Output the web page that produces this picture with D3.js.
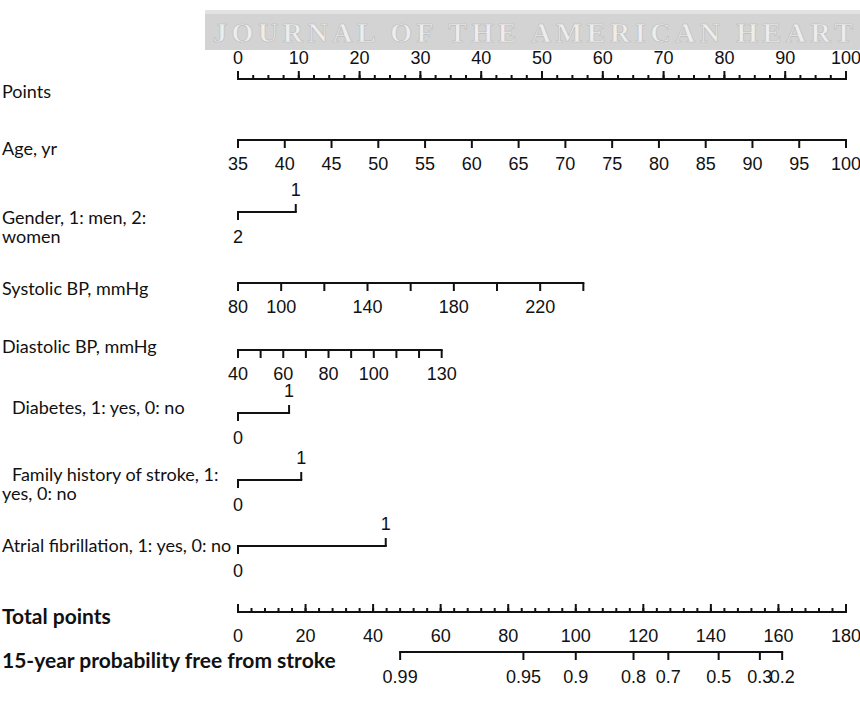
<!DOCTYPE html>
<html>
<head>
<meta charset="utf-8">
<script src="https://cdn.jsdelivr.net/npm/d3@7"></script>
<style>
  body { margin: 0; background: #fff; }
  svg { display: block; }
  .lab { font-family: Lato, "Open Sans", sans-serif; font-size: 18px; fill: #111; }
  .lab.b { font-size: 21px; font-weight: bold; }
  .num { font-family: "Liberation Sans", Arial, sans-serif; font-size: 18px; fill: #111; }
  .axis line { stroke: #111; stroke-width: 2; }
</style>
</head>
<body>
<svg id="chart" width="860" height="709"></svg>
<script>
// values
var pointsMajor = d3.range(0, 101, 10);
var pointsMinor = d3.range(0, 100.1, 2.5);

var ageTicks = d3.range(35, 101, 5);
var ageRange = [35, 100], agePts = [0, 100];

var genderCats = ['2', '1'], genderPts = [0, 9.5];

var sbpTicks = [80, 100, 120, 140, 160, 180, 200, 220, 240];
var sbpLabels = [80, 100, 140, 180, 220];
var sbpRange = [80, 240], sbpPts = [0, 56.8];

var dbpTicks = d3.range(40, 131, 10);
var dbpLabels = [40, 60, 80, 100, 130];
var dbpRange = [40, 130], dbpPts = [0, 33.5];

var diabetesCats = ['0', '1'], diabetesPts = [0, 8.4];
var familyCats = ['0', '1'], familyPts = [0, 10.4];
var afCats = ['0', '1'], afPts = [0, 24.3];

var totalMajor = d3.range(0, 181, 20);
var totalMinor = d3.range(0, 180.1, 4);

var probLabels = ['0.99', '0.95', '0.9', '0.8', '0.7', '0.5', '0.3', '0.2'];
var probTotal = [48.0, 84.5, 100.0, 117.1, 127.4, 142.3, 154.5, 161.1];

var svg = d3.select('#chart');

var xPts = d3.scaleLinear().domain([0, 100]).range([238, 846]);
var xTot = d3.scaleLinear().domain([0, 180]).range([238, 846]);

// watermark banner
svg.append('rect').attr('x', 205).attr('y', 10).attr('width', 655).attr('height', 40).attr('fill', '#d3d3d3');
svg.append('rect').attr('x', 205).attr('y', 10).attr('width', 655).attr('height', 4).attr('fill', '#e2e2e2');
svg.append('text')
    .attr('x', 213).attr('y', 42)
    .attr('font-family', '"Liberation Serif", serif')
    .attr('font-size', 28)
    .attr('font-weight', 'bold')
    .attr('textLength', 640)
    .attr('lengthAdjust', 'spacing')
    .attr('fill', '#ededed')
    .attr('stroke', '#bdbdbd')
    .attr('stroke-width', 0.7)
    .text('JOURNAL OF THE AMERICAN HEART');

svg.append('clipPath').attr('id', 'leftClip')
    .append('rect').attr('x', 0).attr('y', 0).attr('width', 231).attr('height', 709);

function label(lines, x, y, bold, clip) {
    var t = svg.append('text').attr('class', bold ? 'lab b' : 'lab').attr('x', x).attr('y', y)
        .attr('clip-path', clip ? 'url(#leftClip)' : null);
    lines.forEach(function (s, i) {
        t.append('tspan').attr('x', i ? 2 : x).attr('dy', i ? 19 : 0).text(s);
    });
}

// continuous axis: ticks up or down, labels above or below
function contAxis(y, scale, ticks, labels, up, minor, labelsAbove) {
    var g = svg.append('g').attr('class', 'axis').attr('transform', 'translate(0,' + y + ')');
    var r = scale.range();
    g.append('line').attr('x1', r[0] - 1).attr('x2', r[1] + 1).attr('y1', 0).attr('y2', 0);
    var dir = up ? -1 : 1;
    if (minor) {
        g.selectAll('line.minor').data(minor).enter().append('line').attr('class', 'minor')
            .attr('x1', scale).attr('x2', scale).attr('y1', 0).attr('y2', dir * 4);
    }
    g.selectAll('line.major').data(ticks).enter().append('line').attr('class', 'major')
        .attr('x1', scale).attr('x2', scale).attr('y1', 0).attr('y2', dir * 8);
    g.selectAll('text').data(labels).enter().append('text').attr('class', 'num')
        .attr('x', scale).attr('y', labelsAbove ? -15 : 30)
        .attr('text-anchor', 'middle')
        .text(function (d) { return d; });
}

// categorical bracket: low value below left end, high value above right end
function catAxis(y, cats, pts) {
    var g = svg.append('g').attr('class', 'axis').attr('transform', 'translate(0,' + y + ')');
    var x0 = xPts(pts[0]), x1 = xPts(pts[1]);
    g.append('line').attr('x1', x0 - 1).attr('x2', x1 + 1).attr('y1', 0).attr('y2', 0);
    g.append('line').attr('x1', x0).attr('x2', x0).attr('y1', 0).attr('y2', 8);
    g.append('line').attr('x1', x1).attr('x2', x1).attr('y1', 0).attr('y2', -8);
    g.append('text').attr('class', 'num').attr('x', x0).attr('y', 31).attr('text-anchor', 'middle').text(cats[0]);
    g.append('text').attr('class', 'num').attr('x', x1).attr('y', -16).attr('text-anchor', 'middle').text(cats[1]);
}

// Points
contAxis(79, xPts, pointsMajor, pointsMajor, true, pointsMinor, true);
label(['Points'], 2, 98);

// Age
var ageX = d3.scaleLinear().domain(ageRange).range(agePts.map(xPts));
contAxis(140, ageX, ageTicks, ageTicks, false);
label(['Age, yr'], 2, 155);

// Gender
catAxis(212, genderCats, genderPts);
label(['Gender, 1: men, 2:', 'women'], 2, 224);

// Systolic BP
var sbpX = d3.scaleLinear().domain(sbpRange).range(sbpPts.map(xPts));
contAxis(283, sbpX, sbpTicks, sbpLabels, false);
label(['Systolic BP, mmHg'], 2, 295);

// Diastolic BP
var dbpX = d3.scaleLinear().domain(dbpRange).range(dbpPts.map(xPts));
contAxis(350, dbpX, dbpTicks, dbpLabels, false);
label(['Diastolic BP, mmHg'], 2, 353);

// Diabetes
catAxis(413, diabetesCats, diabetesPts);
label(['Diabetes, 1: yes, 0: no'], 12, 414);

// Family history
catAxis(480, familyCats, familyPts);
label(['Family history of stroke, 1:', 'yes, 0: no'], 12, 481);

// Atrial fibrillation
catAxis(546, afCats, afPts);
label(['Atrial fibrillation, 1: yes, 0: no'], 2, 552, false, true);

// Total points
contAxis(612, xTot, totalMajor, totalMajor, true, totalMinor, false);
label(['Total points'], 2, 624, true);

// 15-year probability
var pg = svg.append('g').attr('class', 'axis').attr('transform', 'translate(0,652)');
pg.append('line').attr('x1', xTot(probTotal[0]) - 1).attr('x2', xTot(probTotal[probTotal.length - 1]) + 1)
    .attr('y1', 0).attr('y2', 0);
pg.selectAll('line.major').data(probTotal).enter().append('line').attr('class', 'major')
    .attr('x1', xTot).attr('x2', xTot).attr('y1', 0).attr('y2', 8);
pg.selectAll('text').data(probTotal).enter().append('text').attr('class', 'num')
    .attr('x', xTot).attr('y', 31).attr('text-anchor', 'middle')
    .text(function (d, i) { return probLabels[i]; });
label(['15-year probability free from stroke'], 2, 668, true);
</script>
</body>
</html>
